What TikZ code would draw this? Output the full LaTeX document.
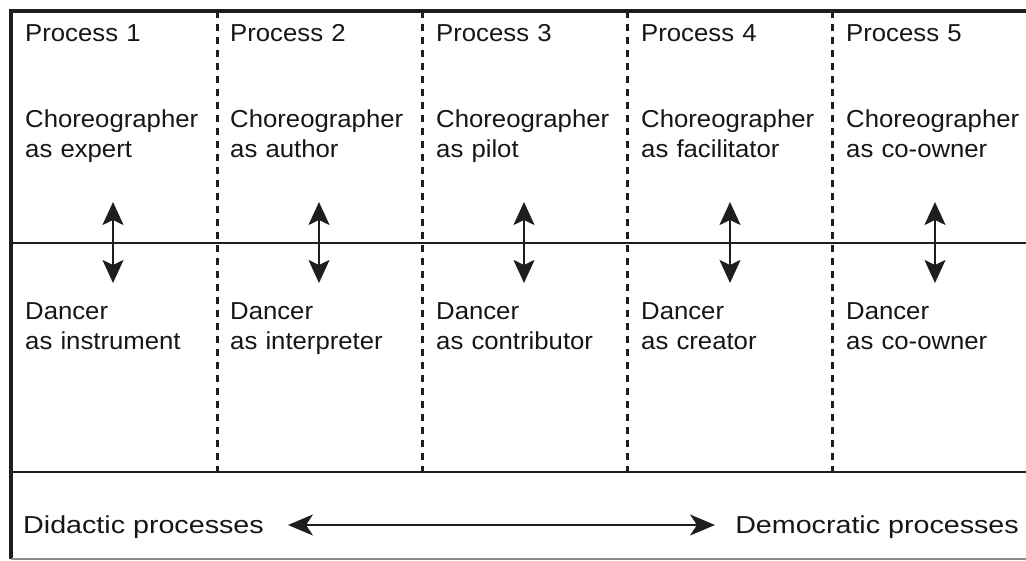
\documentclass[tikz,border=0pt]{standalone}
\usepackage{fontspec}
\setmainfont{Liberation Sans}
\newfontfamily\cellfont{Liberation Sans}[FakeStretch=1.05]
\newfontfamily\axisfont{Liberation Sans}[FakeStretch=1.17]
\definecolor{ink}{HTML}{161616}
\definecolor{rule}{HTML}{1E1E1E}
\definecolor{rulelt}{HTML}{8C8C8C}
\usetikzlibrary{arrows.meta,positioning}

\begin{document}
\begin{tikzpicture}[x=1pt,y=-1pt,
    tx/.style={anchor=base west,inner sep=0pt,align=left,text width=195pt,
      text=ink,font=\cellfont\fontsize{24.5}{29.5}\selectfont},
    ax/.style={anchor=base,inner sep=0pt,text=ink,
      font=\axisfont\fontsize{24.5}{29.5}\selectfont},
    sep/.style={rule,line width=3pt,dash pattern=on 7pt off 6pt},
    ln/.style={rule,line width=2.6pt},
    ar/.style={<->,>={Stealth[length=23pt,width=21pt,inset=5pt]},
      rule,line width=2.2pt},
    arl/.style={<->,>={Stealth[length=25pt,width=21pt,inset=7pt]},
      rule,line width=2.2pt},
  ]
    \useasboundingbox (0,0) rectangle (1026,561);
    \clip (0,0) rectangle (1026,561);

    % frame and rows
    \draw[rule,line width=3.2pt] (1040,11) -- (11,11) -- (11,559);
    \draw[rulelt,line width=1.8pt] (11,559) -- (1040,559);
    \draw[ln] (11,243) -- (1040,243);
    \draw[ln] (11,472) -- (1040,472);

    % column separators
    \draw[sep] (217,11) -- (217,472);
    \draw[sep] (422,11) -- (422,472);
    \draw[sep] (627,11) -- (627,472);
    \draw[sep] (832,11) -- (832,472);

    % process 1
    \node[tx] (p1) at (25,42) {Process 1};
    \node[tx] (c1) at (25,128) {Choreographer\\as expert};
    \node[tx] (d1) at (25,320) {Dancer\\as instrument};
    % process 2
    \node[tx] (p2) at (230,42) {Process 2};
    \node[tx] (c2) at (230,128) {Choreographer\\as author};
    \node[tx] (d2) at (230,320) {Dancer\\as interpreter};
    % process 3
    \node[tx] (p3) at (436,42) {Process 3};
    \node[tx] (c3) at (436,128) {Choreographer\\as pilot};
    \node[tx] (d3) at (436,320) {Dancer\\as contributor};
    % process 4
    \node[tx] (p4) at (641,42) {Process 4};
    \node[tx] (c4) at (641,128) {Choreographer\\as facilitator};
    \node[tx] (d4) at (641,320) {Dancer\\as creator};
    % process 5
    \node[tx] (p5) at (846,42) {Process 5};
    \node[tx] (c5) at (846,128) {Choreographer\\as co-owner};
    \node[tx] (d5) at (846,320) {Dancer\\as co-owner};

    % role arrows
    \coordinate (u1) at (113,202); \coordinate (l1) at (113,283);
    \coordinate (u2) at (319,202); \coordinate (l2) at (319,283);
    \coordinate (u3) at (524,202); \coordinate (l3) at (524,283);
    \coordinate (u4) at (730,202); \coordinate (l4) at (730,283);
    \coordinate (u5) at (935,202); \coordinate (l5) at (935,283);
    \draw[ar] (u1)--(l1); \draw[ar] (u2)--(l2); \draw[ar] (u3)--(l3);
    \draw[ar] (u4)--(l4); \draw[ar] (u5)--(l5);

    % scale of processes
    \node[ax,anchor=base west] (dd) at (23,533) {Didactic processes};
    \node[ax,anchor=base east] (dm) at (1019,533) {Democratic processes};
    \coordinate (al) at (288,525); \coordinate (ar) at (715,525);
    \draw[arl] (al)--(ar);
  \end{tikzpicture}
\end{document}
